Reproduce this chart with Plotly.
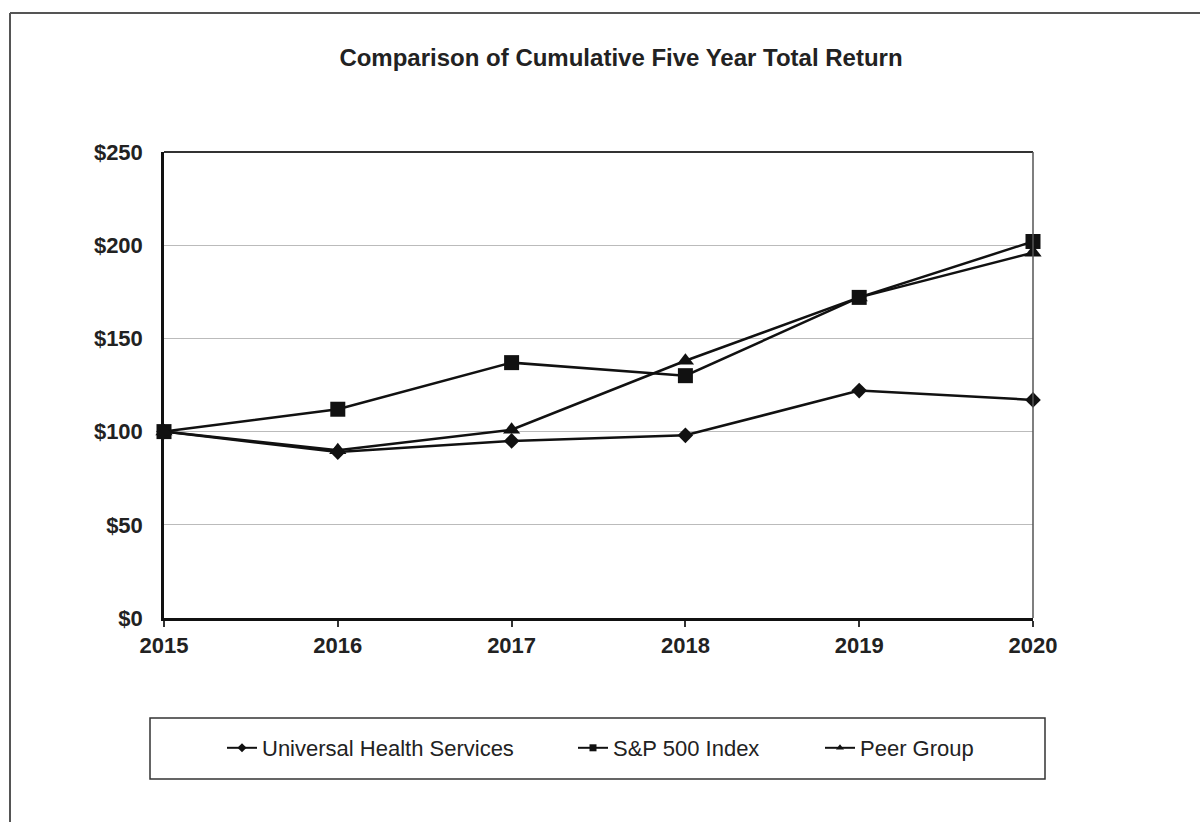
import plotly.graph_objects as go

years = [2015, 2016, 2017, 2018, 2019, 2020]
uhs = [100, 89, 95, 98, 122, 117]
sp500 = [100, 112, 137, 130, 172, 202]
peer = [100, 90, 101, 138, 172, 196]
names = ["Universal Health Services", "S&P 500 Index", "Peer Group"]
y_ticks = [0, 50, 100, 150, 200, 250]
y_labels = ["$0", "$50", "$100", "$150", "$200", "$250"]

FONT = "Liberation Sans, Arial, sans-serif"

fig = go.Figure()

series = [
    (uhs, names[0], "diamond", 12, "legend"),
    (sp500, names[1], "square", 15, "legend2"),
    (peer, names[2], "triangle-up", 15, "legend3"),
]
for vals, name, sym, sz, lg in series:
    fig.add_trace(go.Scatter(
        x=years, y=vals, mode="lines+markers", name=name,
        line=dict(color="#111111", width=2.5),
        marker=dict(symbol=sym, size=sz, color="#111111"),
        cliponaxis=False, showlegend=False,
    ))
    # legend-only entry with small marker
    fig.add_trace(go.Scatter(
        x=[None], y=[None], mode="lines+markers", name=name,
        line=dict(color="#111111", width=2),
        marker=dict(symbol=sym, size=7, color="#111111"),
        legend=lg, showlegend=True,
    ))

W, H = 1200, 822
L, R, T, B = 164, 1033, 152, 618

def px(x):
    return (x - L) / (R - L)

def py(y):
    return (B - y) / (B - T)

shapes = [
    # outer frame (top and left visible)
    dict(type="line", xref="paper", yref="paper", x0=px(10), x1=px(1200), y0=py(13), y1=py(13),
         line=dict(color="#555555", width=2)),
    dict(type="line", xref="paper", yref="paper", x0=px(10), x1=px(10), y0=py(13), y1=py(822),
         line=dict(color="#555555", width=2)),
    # plot area top and right
    dict(type="line", xref="paper", yref="paper", x0=0, x1=1, y0=1, y1=1,
         line=dict(color="#333333", width=1.8)),
    dict(type="line", xref="paper", yref="paper", x0=1, x1=1, y0=0, y1=1,
         line=dict(color="#555555", width=1.5)),
    # legend box
    dict(type="rect", xref="paper", yref="paper", x0=px(150), x1=px(1045), y0=py(779), y1=py(718),
         line=dict(color="#333333", width=1.5)),
]

leg_common = dict(orientation="h", yanchor="middle", xanchor="left",
                  font=dict(family=FONT, size=22, color="#222222"),
                  bgcolor="rgba(0,0,0,0)", borderwidth=0, itemwidth=30)
ly = py(748)

tick_font = dict(family=FONT, size=22, color="#222222", weight="bold")

fig.update_layout(
    width=W, height=H,
    margin=dict(l=L, r=W - R, t=T, b=H - B, pad=0),
    paper_bgcolor="white", plot_bgcolor="white",
    title=dict(text="<b>Comparison of Cumulative Five Year Total Return</b>",
               x=621 / W, xanchor="center", y=1 - 58 / H, yanchor="middle",
               font=dict(family=FONT, size=24, color="#222222")),
    xaxis=dict(range=[2015, 2020], tickvals=years, ticktext=[str(y) for y in years],
               showgrid=False, zeroline=False, showline=True, linecolor="#111111", linewidth=2.5,
               ticks="outside", ticklen=6, tickwidth=1.5, tickcolor="#333333",
               tickfont=tick_font, ticklabelstandoff=0),
    yaxis=dict(range=[0, 250], tickvals=y_ticks, ticktext=y_labels,
               showgrid=True, gridcolor="#bbbbbb", gridwidth=1, zeroline=False,
               showline=True, linecolor="#111111", linewidth=2.5,
               ticks="", tickfont=tick_font, ticklabelstandoff=14),
    legend=dict(x=px(222), y=ly, **leg_common),
    legend2=dict(x=px(573), y=ly, **leg_common),
    legend3=dict(x=px(820), y=ly, **leg_common),
    shapes=shapes,
)

fig.write_html("out.html")
